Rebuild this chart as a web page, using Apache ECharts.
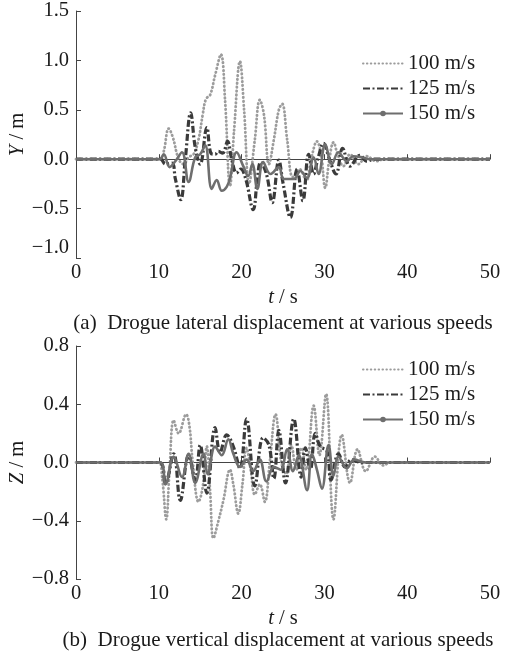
<!DOCTYPE html>
<html>
<head>
<meta charset="utf-8">
<script src="https://cdn.jsdelivr.net/npm/echarts@6/dist/echarts.min.js"></script>
<style>html,body{margin:0;padding:0;background:#fff;}#c{width:513px;height:660px;}</style>
</head>
<body>
<div id="c"></div>
<script>
// ---- data ----
const seriesNames = ['100 m/s', '125 m/s', '150 m/s'];
const xTicks = [0, 10, 20, 30, 40, 50];

// (a) lateral displacement Y
const tA100 = [0, 10.2, 10.6, 11.2, 11.7, 12.4, 13.0, 13.6, 14.2, 14.8, 15.3, 15.7, 16.2, 16.8, 17.5, 18.0, 18.6, 19.1, 19.8, 20.3, 20.9, 21.6, 22.2, 22.7, 23.3, 23.9, 24.5, 24.9, 25.5, 26.2, 27.0, 27.8, 28.4, 29.1, 29.6, 30.1, 30.6, 31.1, 31.6, 32.3, 33.1, 34.1, 35.1, 36.3, 37.2, 50];
const yA100 = [0, 0, 0.08, 0.31, 0.22, 0.0, -0.05, 0.02, 0.05, 0.2, 0.45, 0.61, 0.65, 0.85, 1.06, 0.6, -0.27, 0.3, 0.99, 0.5, -0.25, 0.2, 0.60, 0.45, -0.05, 0.2, 0.5, 0.56, 0.2, -0.18, -0.1, -0.22, 0.0, 0.18, 0.05, -0.29, 0.0, 0.17, 0.05, -0.07, 0.05, -0.05, 0.03, -0.02, 0, 0];
const tA125 = [0, 10.2, 10.8, 11.6, 12.0, 12.65, 13.2, 13.85, 14.4, 15.0, 15.8, 16.3, 16.8, 17.2, 17.7, 18.3, 18.8, 19.4, 19.9, 20.5, 21.4, 21.9, 22.3, 23.0, 23.7, 24.5, 25.0, 25.9, 26.7, 27.4, 28.1, 28.7, 29.2, 29.9, 30.6, 31.4, 32.2, 33.1, 34.3, 35.1, 36.0, 50];
const yA125 = [0, 0, -0.05, -0.04, -0.2, -0.41, 0.0, 0.47, 0.12, -0.05, 0.32, 0.06, 0.05, 0.08, 0.06, 0.18, 0.0, -0.14, -0.1, -0.2, -0.51, -0.2, -0.03, -0.15, -0.44, -0.01, -0.24, -0.59, -0.10, -0.42, 0.05, -0.15, 0.0, 0.16, 0.0, -0.15, 0.11, -0.07, 0.04, -0.02, 0, 0];
const tA150 = [0, 10.1, 10.6, 11.3, 12.0, 12.8, 13.6, 14.4, 15.0, 15.6, 16.4, 17.0, 17.6, 18.2, 18.6, 19.4, 20.2, 20.8, 21.3, 21.9, 22.6, 23.5, 24.5, 25.1, 26.3, 27.1, 27.9, 28.7, 29.3, 30.1, 30.9, 31.7, 32.7, 33.5, 34.5, 35.5, 50];
const yA150 = [0, 0, 0.05, -0.08, -0.02, 0.07, -0.23, 0.02, 0.05, 0.14, -0.30, -0.21, -0.32, -0.28, -0.19, 0.07, -0.07, -0.17, -0.05, -0.30, -0.03, -0.15, -0.08, -0.2, -0.2, -0.12, -0.19, 0.02, -0.15, 0.15, -0.05, 0.07, -0.02, 0.03, 0.02, 0, 0];

// (b) vertical displacement Z
const tB100 = [0, 10.0, 10.4, 10.9, 11.3, 11.8, 12.4, 13.3, 13.7, 14.1, 14.8, 15.3, 15.8, 16.2, 16.6, 17.2, 17.8, 18.6, 19.0, 19.6, 20.1, 20.6, 21.1, 21.6, 22.2, 22.8, 23.4, 24.1, 24.8, 25.4, 26.0, 26.6, 27.2, 27.8, 28.7, 29.4, 30.2, 31.1, 32.1, 33.1, 34.0, 35.0, 36.1, 37.1, 38.0, 50];
const yB100 = [0, 0, -0.1, -0.39, -0.05, 0.29, 0.20, 0.33, 0.25, 0.0, -0.27, -0.17, 0.11, -0.2, -0.52, -0.4, -0.26, -0.05, -0.15, -0.35, -0.15, 0.1, -0.05, -0.22, -0.15, -0.27, 0.0, 0.33, 0.0, -0.08, 0.12, -0.05, 0.1, -0.05, 0.39, 0.05, 0.47, -0.39, 0.19, -0.14, 0.09, -0.06, 0.04, -0.02, 0, 0];
const tB125 = [0, 10.1, 10.8, 11.8, 12.6, 13.6, 14.4, 15.0, 15.8, 16.8, 17.4, 18.2, 19.0, 19.8, 20.6, 21.6, 22.6, 23.3, 23.9, 24.5, 25.3, 26.3, 27.2, 27.7, 28.3, 28.9, 29.5, 30.3, 30.8, 31.7, 32.5, 33.3, 34.5, 50];
const yB125 = [0, 0, -0.14, 0.06, -0.26, 0.05, -0.12, 0.12, -0.21, 0.24, 0.07, 0.19, 0.11, -0.04, 0.30, -0.16, 0.17, 0.12, -0.11, 0.22, -0.14, 0.30, -0.10, 0.10, -0.05, 0.20, 0.11, 0.08, -0.12, 0.06, -0.03, 0.02, 0, 0];
const tB150 = [0, 10.2, 10.8, 11.8, 12.8, 13.6, 14.4, 15.4, 15.9, 16.8, 17.6, 18.4, 19.0, 19.8, 20.6, 21.4, 22.2, 23.0, 23.9, 24.7, 25.5, 26.2, 26.9, 27.9, 28.5, 29.1, 29.7, 30.5, 31.1, 31.7, 32.7, 33.6, 35.0, 50];
const yB150 = [0, 0, -0.15, 0.04, -0.10, 0.06, -0.14, 0.06, -0.08, 0.11, 0.05, 0.16, 0.06, -0.03, 0.02, -0.06, 0.02, -0.13, -0.03, -0.05, 0.09, -0.06, 0.05, -0.19, 0.06, -0.05, -0.18, 0.12, -0.09, 0.04, -0.04, 0.02, 0, 0];

const captionA = '(a)  Drogue lateral displacement at various speeds';
const captionB = '(b)  Drogue vertical displacement at various speeds';

// ---- chart ----
const FONT = '"Liberation Serif", "Times New Roman", serif';
const TXT = '#1a1a1a';
const FS = 20.5;
const zip = (t, y) => t.map((v, i) => [v, y[i]]);
const fmt = v => (v < -1e-9 ? '\u2212' : '') + Math.abs(v).toFixed(1);

const styles = [
  { color: '#9c9c9c', width: 2.8, type: [0.5, 3.4], cap: 'round', symbol: 'none', legendItem: { opacity: 0 } },
  { color: '#3a3a3a', width: 3.2, type: [7, 2.5, 2, 2.5], cap: 'butt', symbol: 'none', legendItem: { opacity: 0 } },
  { color: '#6e6e6e', width: 2.6, type: 'solid', cap: 'butt', symbol: 'circle', legendItem: {} }
];

function mkSeries(idx, gridIdx, t, y) {
  const s = styles[idx];
  return {
    name: seriesNames[idx], type: 'line', xAxisIndex: gridIdx, yAxisIndex: gridIdx,
    data: zip(t, y), smooth: 0.4, symbol: s.symbol, symbolSize: 5, showSymbol: false,
    itemStyle: { color: s.color },
    lineStyle: { color: s.color, width: s.width, type: s.type, cap: s.cap, join: 'round' },
    silent: true, animation: false
  };
}

function xAxis(gi) {
  return {
    gridIndex: gi, type: 'value', min: 0, max: 50, interval: 10,
    name: '{i|t} / s', nameLocation: 'middle', nameGap: 29, nameMoveOverlap: false,
    nameTextStyle: { fontFamily: FONT, fontSize: FS, color: TXT,
      rich: { i: { fontFamily: FONT, fontSize: FS, fontStyle: 'italic', color: TXT } } },
    axisLine: { lineStyle: { color: '#444', width: 1 } },
    axisTick: { inside: true, length: 5, lineStyle: { color: '#444' } },
    axisLabel: { fontFamily: FONT, fontSize: FS, color: TXT, margin: 4,
      formatter: v => (xTicks.indexOf(v) >= 0 ? String(v) : '') },
    splitLine: { show: false }
  };
}
function yAxis(gi, min, max, interval, letter, minBottom) {
  return {
    gridIndex: gi, type: 'value', min: min, max: max, interval: interval,
    name: '{i|' + letter + '} / m', nameLocation: 'middle', nameGap: 48, nameMoveOverlap: false,
    nameTextStyle: { fontFamily: FONT, fontSize: FS, color: TXT,
      rich: { i: { fontFamily: FONT, fontSize: FS, fontStyle: 'italic', color: TXT } } },
    axisLine: { show: true, lineStyle: { color: '#444', width: 1 } },
    axisTick: { show: true, inside: true, length: 5, lineStyle: { color: '#444' } },
    axisLabel: { fontFamily: FONT, fontSize: FS, color: TXT, margin: 7, formatter: fmt,
      verticalAlignMinLabel: minBottom ? 'bottom' : null },
    splitLine: { show: false }
  };
}

const legendData = seriesNames.map((n, i) => ({ name: n, itemStyle: styles[i].legendItem }));
const legendCommon = {
  orient: 'vertical', left: 357, itemWidth: 40, itemHeight: 7, itemGap: 4,
  textStyle: { fontFamily: FONT, fontSize: 21, color: TXT, lineHeight: 20 },
  selectedMode: false, data: legendData
};

const chart = echarts.init(document.getElementById('c'), null, { renderer: 'canvas' });
chart.setOption({
  backgroundColor: '#fff',
  animation: false,
  grid: [
    { left: 76, right: 23, top: 11, height: 247, containLabel: false, outerBoundsMode: 'none' },
    { left: 76, right: 23, top: 346, height: 233, containLabel: false, outerBoundsMode: 'none' }
  ],
  xAxis: [xAxis(0), xAxis(1)],
  yAxis: [yAxis(0, -1, 1.5, 0.5, 'Y', true), yAxis(1, -0.8, 0.8, 0.4, 'Z', false)],
  legend: [
    Object.assign({}, legendCommon, { top: 48 }),
    Object.assign({}, legendCommon, { top: 354 })
  ],
  graphic: [
    { type: 'text', x: 283, y: 323, style: { text: captionA, font: '21px ' + FONT, fill: TXT, align: 'center', verticalAlign: 'middle' } },
    { type: 'text', x: 278, y: 640, style: { text: captionB, font: '21px ' + FONT, fill: TXT, align: 'center', verticalAlign: 'middle' } }
  ],
  series: [
    mkSeries(0, 0, tA100, yA100), mkSeries(1, 0, tA125, yA125), mkSeries(2, 0, tA150, yA150),
    mkSeries(0, 1, tB100, yB100), mkSeries(1, 1, tB125, yB125), mkSeries(2, 1, tB150, yB150)
  ]
});
</script>
</body>
</html>
